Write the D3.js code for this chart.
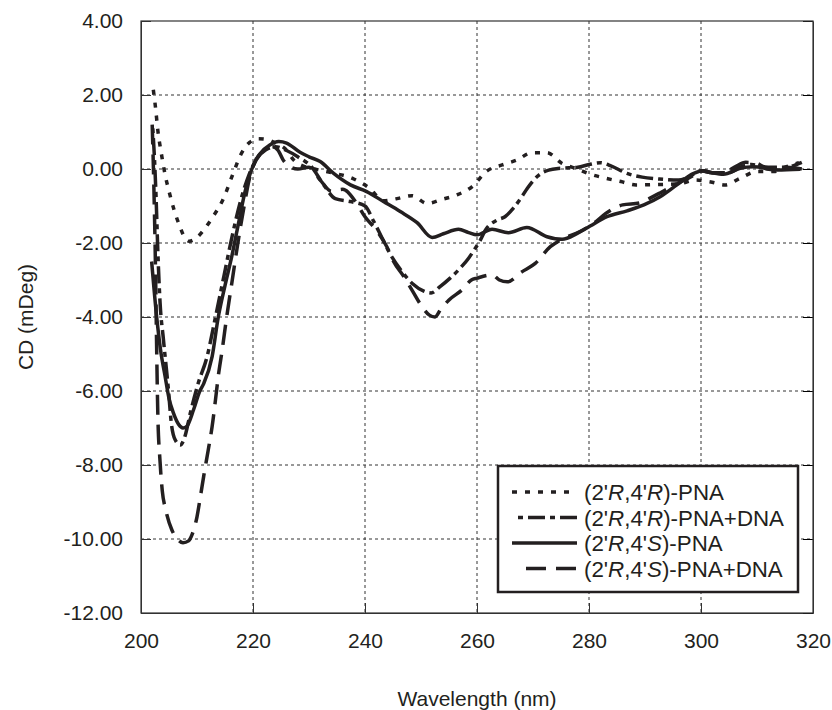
<!DOCTYPE html>
<html>
<head>
<meta charset="utf-8">
<script src="https://cdn.jsdelivr.net/npm/d3@7"></script>
<style>
  body { margin: 0; background: #fff; }
  text { font-family: "Liberation Sans", Arial, sans-serif; fill: #231f20; }
</style>
</head>
<body>
<div id="chart"></div>
<script>
// CD spectra: [wavelength nm, CD mDeg]
var rrPna = [[202.2,2.14],[202.6,1.65],[203,1.05],[203.6,0.45],[204.3,-0.15],[205,-0.6],[205.9,-1.1],[206.8,-1.5],[207.8,-1.85],[208.6,-1.95],[210,-1.85],[211.2,-1.65],[212.8,-1.3],[214.5,-0.87],[216.5,-0.1],[217.7,0.35],[219.4,0.72],[221,0.82],[222.5,0.8],[224,0.7],[225.8,0.54],[227.4,0.22],[229,0.08],[231,0.0],[234,-0.1],[238,-0.27],[240.8,-0.52],[243.3,-0.86],[245.7,-0.8],[248.4,-0.72],[251.1,-0.93],[253.8,-0.82],[256.4,-0.7],[259.1,-0.48],[261.8,-0.05],[264.5,0.11],[267.1,0.24],[269.8,0.44],[272.5,0.44],[275.2,0.15],[277.9,0.0],[280.2,-0.14],[283,-0.25],[285.7,-0.34],[288.4,-0.43],[292,-0.42],[296,-0.4],[299,-0.3],[302,-0.36],[304.3,-0.43],[307,-0.25],[310,-0.07],[313,-0.07],[315,0.05],[317.5,0.17]];

var rrPnaDna = [[202.1,1.1],[202.4,0.3],[202.7,-0.8],[203,-2.2],[203.4,-3.6],[204,-4.6],[204.9,-5.97],[205.4,-6.85],[206.1,-7.32],[207,-7.46],[207.9,-7.2],[208.8,-6.6],[210.2,-5.8],[211.8,-5.07],[213.3,-4.0],[214.8,-2.9],[216.3,-1.8],[217.8,-0.85],[219.3,-0.15],[220.8,0.3],[222.3,0.52],[224,0.6],[226,0.5],[228,0.33],[230.5,0.05],[232.5,-0.4],[234.7,-0.8],[237.4,-0.88],[240,-1.0],[241.5,-1.4],[243,-1.85],[244.5,-2.3],[246.5,-2.75],[248.5,-3.1],[250.5,-3.3],[251.8,-3.35],[253.4,-3.18],[255.2,-2.95],[257,-2.68],[258.5,-2.41],[259.7,-2.14],[260.6,-1.92],[261.5,-1.65],[263.6,-1.38],[265,-1.29],[266.5,-1.06],[268,-0.75],[269,-0.52],[270.7,-0.21],[272.8,-0.03],[275,0.02],[278,0.05],[280,0.12],[282,0.17],[284,0.08],[286.8,-0.12],[289.5,-0.22],[292.5,-0.27],[296,-0.3],[298,-0.2],[300,-0.05],[302,-0.1],[305,-0.1],[307,0.05],[309,0.12],[312,0.05],[315,0.05],[318,0.18]];

var rsPna = [[201.9,-2.5],[202.8,-4.0],[203.5,-4.9],[204.3,-5.6],[205,-6.2],[205.8,-6.6],[206.7,-6.9],[207.5,-7.0],[208.2,-6.95],[209.4,-6.5],[210.5,-6.0],[211.2,-5.8],[212.7,-5.07],[213.8,-4.0],[215,-3.15],[216.2,-2.37],[217.5,-1.4],[218.6,-0.6],[219.5,-0.12],[221.3,0.42],[223,0.65],[224.6,0.74],[226,0.7],[228.4,0.45],[230,0.33],[232,0.2],[234.4,-0.12],[237.4,-0.43],[240.3,-0.61],[243.3,-0.88],[246.3,-1.15],[249.3,-1.45],[252,-1.85],[254,-1.75],[256.7,-1.63],[258.5,-1.72],[260,-1.78],[262.7,-1.63],[265.6,-1.72],[268.9,-1.58],[272.5,-1.83],[275.2,-1.9],[277.9,-1.74],[280.2,-1.54],[283.2,-1.29],[286.8,-1.13],[289.8,-0.97],[292.7,-0.75],[295.7,-0.43],[298.7,-0.12],[300.5,-0.05],[302,-0.1],[304,-0.14],[307,0.02],[309.4,0.06],[313.6,-0.03],[317.7,-0.01]];

var rsPnaDna = [[202,1.2],[202.3,-0.5],[202.6,-2.8],[202.8,-4.9],[203,-6.6],[203.4,-7.9],[203.8,-8.7],[204.4,-9.2],[205.5,-9.75],[206.5,-10.0],[207.5,-10.1],[208.5,-10.05],[209.2,-9.85],[210,-9.4],[210.6,-8.86],[211.2,-8.3],[212,-7.6],[212.7,-6.96],[213.3,-6.24],[213.8,-5.6],[214.5,-4.89],[215.3,-4.0],[216.3,-3.0],[217.3,-2.0],[218.3,-1.1],[219.3,-0.3],[220.5,0.25],[222,0.5],[223.5,0.6],[224.5,0.5],[225.4,0.24],[226.5,0.07],[228,0.0],[230,0.05],[232,-0.3],[234,-0.6],[236,-0.55],[238.3,-0.88],[240,-1.29],[242,-1.65],[243.9,-2.1],[245.1,-2.5],[246.9,-2.9],[248.5,-3.3],[250,-3.68],[251.5,-3.95],[252.5,-4.0],[253.5,-3.8],[255,-3.54],[257.3,-3.27],[259,-3.0],[260,-2.95],[262.7,-2.86],[264,-3.0],[265.4,-3.05],[268,-2.78],[270.4,-2.55],[273.1,-2.1],[274.9,-1.92],[278.4,-1.69],[281,-1.45],[283,-1.2],[286,-0.97],[289,-0.92],[291,-0.78],[293,-0.62],[295.7,-0.4],[298.3,-0.2],[300,-0.05],[302,-0.1],[304,-0.1],[306,0.05],[308,0.18],[310,0.15],[312,0.0],[315,0.05],[318,0.0]];

var xTicks = [200, 220, 240, 260, 280, 300, 320];
var yTicks = [4, 2, 0, -2, -4, -6, -8, -10, -12];

var series = [
  { name: "PNA", s4: "R", data: rrPna, dash: "5,8" },
  { name: "PNA+DNA", s4: "R", data: rrPnaDna, dash: "5,5,17,5" },
  { name: "PNA", s4: "S", data: rsPna, dash: null },
  { name: "PNA+DNA", s4: "S", data: rsPnaDna, dash: "20,10" }
];

var W = 832, H = 710;
var margin = { top: 21, right: 19, bottom: 97, left: 141 };
var width = W - margin.left - margin.right,
    height = H - margin.top - margin.bottom;

var svg = d3.select("#chart").append("svg")
    .attr("width", W).attr("height", H);

var g = svg.append("g")
    .attr("transform", "translate(" + margin.left + "," + margin.top + ")");

var x = d3.scaleLinear().domain([200, 320]).range([0, width]);
var y = d3.scaleLinear().domain([-12, 4]).range([height, 0]);

// dashed grid
g.append("g").selectAll("line").data(xTicks.slice(1, -1)).enter().append("line")
    .attr("x1", d => x(d)).attr("x2", d => x(d))
    .attr("y1", 0).attr("y2", height)
    .attr("stroke", "#333").attr("stroke-width", 1).attr("stroke-dasharray", "3,3");
g.append("g").selectAll("line").data(yTicks.slice(1, -1)).enter().append("line")
    .attr("y1", d => y(d)).attr("y2", d => y(d))
    .attr("x1", 0).attr("x2", width)
    .attr("stroke", "#333").attr("stroke-width", 1).attr("stroke-dasharray", "3,3");

// axes with inner ticks (plain hyphen for negatives, as in the figure)
var fmt = function (d) { return d3.format(".2f")(d).replace("\u2212", "-"); };
var xAxis = g.append("g")
    .attr("transform", "translate(0," + height + ")")
    .call(d3.axisBottom(x).tickValues(xTicks).tickSizeInner(-10).tickSizeOuter(0).tickPadding(20));
var yAxis = g.append("g")
    .call(d3.axisLeft(y).tickValues(yTicks).tickFormat(fmt).tickSizeInner(-10).tickSizeOuter(0).tickPadding(18));
g.append("g")
    .attr("transform", "translate(" + width + ",0)")
    .call(d3.axisRight(y).tickValues(yTicks).tickSizeInner(-10).tickSizeOuter(0).tickFormat(""));
[xAxis, yAxis].forEach(function (a) {
  a.selectAll("text").style("font-size", "21px").attr("fill", "#231f20");
  a.selectAll("line, path").attr("stroke", "#333");
});
xAxis.selectAll("text").attr("dy", "0.71em");
g.selectAll(".domain").attr("stroke", "#333");

// frame
g.append("rect").attr("width", width).attr("height", height)
    .attr("fill", "none").attr("stroke", "#333").attr("stroke-width", 1.2);

// curves
var line = d3.line()
    .x(d => x(d[0])).y(d => y(d[1]))
    .curve(d3.curveMonotoneX);

g.append("g").selectAll("path").data(series).enter().append("path")
    .attr("d", d => line(d.data))
    .attr("fill", "none")
    .attr("stroke", "#231f20")
    .attr("stroke-width", 3.5)
    .attr("stroke-dasharray", d => d.dash);

// axis titles
svg.append("text")
    .attr("x", margin.left + width / 2).attr("y", 706)
    .attr("text-anchor", "middle").style("font-size", "21px")
    .text("Wavelength (nm)");
svg.append("text")
    .attr("transform", "translate(33," + (margin.top + height / 2) + ") rotate(-90)")
    .attr("text-anchor", "middle").style("font-size", "21px")
    .text("CD (mDeg)");

// legend
var lg = svg.append("g").attr("transform", "translate(498,466)");
lg.append("rect").attr("width", 300).attr("height", 126)
    .attr("fill", "#fff").attr("stroke", "#231f20").attr("stroke-width", 2.5);

var rows = lg.selectAll("g.row").data(series).enter().append("g")
    .attr("class", "row")
    .attr("transform", (d, i) => "translate(0," + (26 + i * 25.5) + ")");
rows.append("line")
    .attr("x1", (d, i) => [14, 20, 14, 28][i]).attr("x2", 79)
    .attr("stroke", "#231f20").attr("stroke-width", 3.5)
    .attr("stroke-dasharray", d => d.dash);
var t = rows.append("text")
    .attr("x", 86).attr("dy", "0.36em").style("font-size", "22.3px");
t.append("tspan").text("(2'");
t.append("tspan").style("font-style", "italic").text("R");
t.append("tspan").text(",4'");
t.append("tspan").style("font-style", "italic").text(d => d.s4);
t.append("tspan").text(d => ")-" + d.name);
</script>
</body>
</html>
